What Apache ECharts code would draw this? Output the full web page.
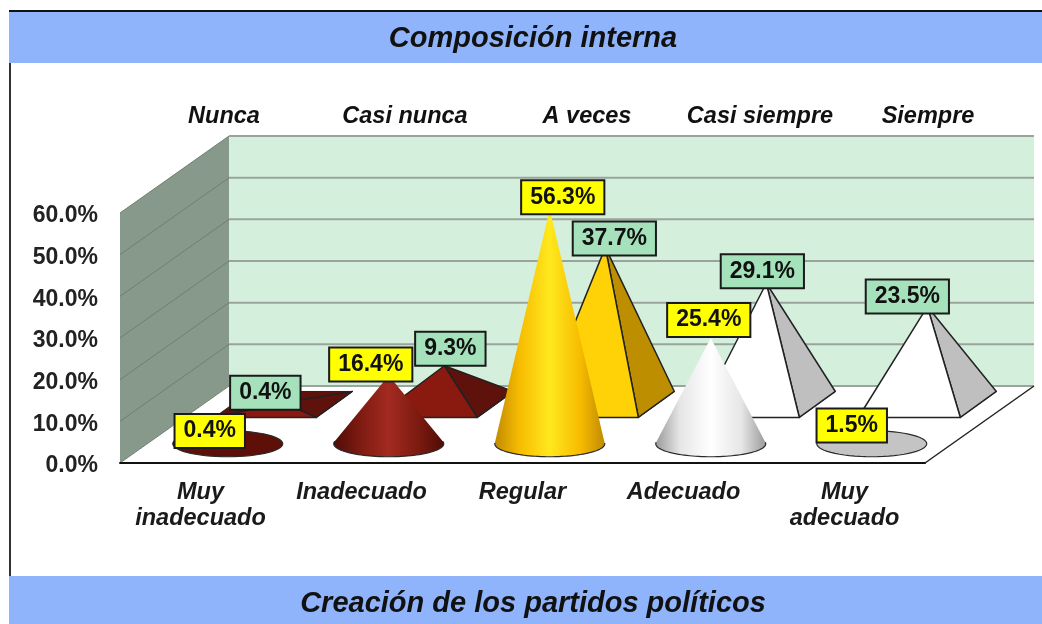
<!DOCTYPE html>
<html><head><meta charset="utf-8">
<style>html,body{margin:0;padding:0;background:#fff}#c{width:1042px;height:624px}</style>
<script src="https://cdn.jsdelivr.net/npm/echarts@6/dist/echarts.min.js"></script>
</head><body><div id="c"></div>
<script>
var categories = ['Muy\ninadecuado', 'Inadecuado', 'Regular', 'Adecuado', 'Muy\nadecuado'];
var backRowNames = ['Nunca', 'Casi nunca', 'A veces', 'Casi siempre', 'Siempre'];
var coneValues = [0.4, 16.4, 56.3, 25.4, 1.5];
var pyramidValues = [0.4, 9.3, 37.7, 29.1, 23.5];
var yTicks = [0, 10, 20, 30, 40, 50, 60];
var topTitle = 'Composición interna';
var bottomTitle = 'Creación de los partidos políticos';

var FONT = '"Liberation Sans", Arial, sans-serif';
var DX = 109, DY = -77;           // oblique projection of the chart's depth
var CONE = {d: 0.25, rx: 55, ry: 13};
var PYR = {d: 0.76, hw: 51, dx: 18, dy: -13};
// hand placement of the value tags relative to each apex, as in the source chart
var CONE_NUDGE = [[-18,-11],[-18,-11],[13,-12],[-2,-18],[-20,-12]];
var PYR_NUDGE  = [[-18,-10],[6,-17],[9,-9],[-4,-12],[-20,-10]];
var CONE_PAL = [
  ['#4e0c06','#7a1a10','#a32a20','#5e0f08'],
  ['#4e0c06','#7a1a10','#a32a20','#5e0f08'],
  ['#c08a00','#f7bb00','#ffe81e','#e0a800'],
  ['#9a9a9a','#e6e6e6','#ffffff','#ccc'],
  ['#9a9a9a','#e6e6e6','#ffffff','#c4c4c4']];
var PYR_PAL = [['#8a1a10','#5e120b'],['#8a1a10','#5e120b'],['#ffd207','#bd8f00'],['#ffffff','#bfbfbf'],['#ffffff','#bfbfbf']];
var BACK_X = [224, 405, 587, 760, 928];

function proj(api, cat, val, d) {
  var p = api.coord([cat, val]);
  return [p[0] + d * DX, p[1] + d * DY];
}
function tag(cx, cy, text, fill) {
  return {type: 'text', z2: 50, style: {
    x: cx, y: cy, text: text, align: 'center', verticalAlign: 'middle',
    font: 'bold 23px ' + FONT, fill: '#111', lineHeight: 24,
    backgroundColor: fill, borderColor: '#1a1a1a', borderWidth: 2, padding: [5, 8, 3, 8]
  }};
}
function renderWalls(params, api) {
  var cs = params.coordSys;
  var l = cs.x, r = cs.x + cs.width, t = cs.y, b = cs.y + cs.height;
  var kids = [];
  function poly(pts, fill, stroke, w) {
    kids.push({type: 'polygon', shape: {points: pts}, style: {fill: fill, stroke: stroke, lineWidth: w || 0}});
  }
  function line(x1, y1, x2, y2, c, w) {
    kids.push({type: 'line', shape: {x1: x1, y1: y1, x2: x2, y2: y2}, style: {stroke: c, lineWidth: w}});
  }
  poly([[l + DX, t + DY], [r + DX, t + DY], [r + DX, b + DY], [l + DX, b + DY]], '#d4f0dc');
  poly([[l, b], [l + DX, b + DY], [l + DX, t + DY], [l, t]], '#87998a');
  poly([[l, b], [l + DX, b + DY], [r + DX, b + DY], [r, b]], '#ffffff');
  yTicks.forEach(function (v) {
    var y = api.coord([0, v])[1];
    line(l, y, l + DX, y + DY, '#6f7f72', 1);
    line(l + DX, y + DY, r + DX, y + DY, '#9aa49c', 2);
  });
  line(r, b, r + DX, b + DY, '#222', 1.5);
  return {type: 'group', children: kids};
}
function renderPyramid(params, api) {
  var i = api.value(0), v = api.value(1);
  var c = proj(api, i, 0, PYR.d), a = proj(api, i, v, PYR.d);
  var FL = [c[0] - PYR.hw - PYR.dx, c[1] - PYR.dy], FR = [c[0] + PYR.hw - PYR.dx, c[1] - PYR.dy];
  var BR = [c[0] + PYR.hw + PYR.dx, c[1] + PYR.dy], BL = [c[0] - PYR.hw + PYR.dx, c[1] + PYR.dy];
  var pal = PYR_PAL[i], n = PYR_NUDGE[i], edge = '#222';
  return {type: 'group', children: [
    {type: 'polygon', shape: {points: [FL, FR, BR, BL]}, style: {fill: pal[1], stroke: edge, lineWidth: 1}},
    {type: 'polygon', shape: {points: [a, FR, BR]}, style: {fill: pal[1], stroke: edge, lineWidth: 1.5, lineJoin: 'round'}},
    {type: 'polygon', shape: {points: [a, FL, FR]}, style: {fill: pal[0], stroke: edge, lineWidth: 1.5, lineJoin: 'round'}},
    tag(a[0] + n[0], a[1] + n[1], v.toFixed(1) + '%', '#a5e2bb')
  ]};
}
function renderCone(params, api) {
  var i = api.value(0), v = api.value(1);
  var c = proj(api, i, 0, CONE.d), a = proj(api, i, v, CONE.d);
  var h = c[1] - a[1], pal = CONE_PAL[i], n = CONE_NUDGE[i], pts = [], k, phi;
  var flat = h <= CONE.ry;
  phi = flat ? 0 : Math.acos(CONE.ry / h);
  for (k = 0; k <= 60; k++) {
    var ang = phi + (2 * Math.PI - 2 * phi) * k / 60;
    pts.push([c[0] + CONE.rx * Math.sin(ang), c[1] - CONE.ry * Math.cos(ang)]);
  }
  if (!flat) pts.unshift(a);
  var fill = flat ? pal[3] : new echarts.graphic.LinearGradient(0, 0, 1, 0, [
    {offset: 0, color: pal[0]}, {offset: 0.22, color: pal[1]},
    {offset: 0.5, color: pal[2]}, {offset: 0.78, color: pal[1]},
    {offset: 1, color: pal[0]}]);
  var arc = pts.slice(flat ? 0 : 1);
  return {type: 'group', children: [
    {type: 'polygon', shape: {points: pts}, style: {fill: fill}},
    {type: 'polyline', shape: {points: arc}, style: {fill: 'none', stroke: '#2a2a2a', lineWidth: 1.2}},
    tag(a[0] + n[0], a[1] + n[1], v.toFixed(1) + '%', '#ffff00')
  ]};
}
function pairs(arr) { return arr.map(function (v, i) { return [i, v]; }); }

var chart = echarts.init(document.getElementById('c'), null, {renderer: 'canvas'});
chart.setOption({
  animation: false,
  backgroundColor: '#fff',
  grid: {left: 120, right: 117, top: 213, bottom: 161},
  xAxis: {type: 'category', data: categories, z: 5,
    axisTick: {show: false},
    axisLine: {lineStyle: {color: '#111', width: 2}},
    axisLabel: {margin: 17, interval: 0, color: '#1a1a1a', lineHeight: 26,
      fontStyle: 'italic', fontWeight: 'bold', fontSize: 23.5, fontFamily: FONT}},
  yAxis: {type: 'value', min: 0, max: 60, interval: 10,
    axisLine: {show: false}, axisTick: {show: false}, splitLine: {show: false},
    axisLabel: {margin: 22,
      formatter: function (v) { return '{v|' + v.toFixed(1) + '%}'; },
      rich: {v: {fontWeight: 'bold', fontSize: 23, fontFamily: FONT, color: '#222', padding: [6, 0, 0, 0]}}}},
  title: [
    {text: topTitle, left: 528, textAlign: 'center', top: 19, textStyle: {fontFamily: FONT, fontSize: 29, fontStyle: 'italic', fontWeight: 'bold', color: '#111'}},
    {text: bottomTitle, left: 528, textAlign: 'center', top: 584, textStyle: {fontFamily: FONT, fontSize: 29, fontStyle: 'italic', fontWeight: 'bold', color: '#111'}}
  ],
  graphic: [
    {type: 'rect', z: -1, shape: {x: 9, y: 12, width: 1033, height: 51}, style: {fill: '#8fb4fb'}},
    {type: 'rect', z: -1, shape: {x: 9, y: 576, width: 1033, height: 48}, style: {fill: '#8fb4fb'}},
    {type: 'line', z: -1, shape: {x1: 9, y1: 11, x2: 1042, y2: 11}, style: {stroke: '#111', lineWidth: 2}},
    {type: 'line', z: -1, shape: {x1: 10, y1: 63, x2: 10, y2: 576}, style: {stroke: '#333', lineWidth: 2}}
  ].concat(backRowNames.map(function (t, i) {
    return {type: 'text', z: 10, style: {x: BACK_X[i], y: 117, text: t, align: 'center', verticalAlign: 'middle',
      font: 'italic bold 23.5px ' + FONT, fill: '#111'}};
  })),
  series: [
    {type: 'custom', name: 'Paredes', z: 1, data: [[0, 0]], renderItem: renderWalls, silent: true},
    {type: 'custom', name: backRowNames.join(' / '), z: 2, data: pairs(pyramidValues), renderItem: renderPyramid, encode: {x: 0, y: 1}},
    {type: 'custom', name: 'Valoración', z: 3, data: pairs(coneValues), renderItem: renderCone, encode: {x: 0, y: 1}}
  ]
});
</script></body></html>
